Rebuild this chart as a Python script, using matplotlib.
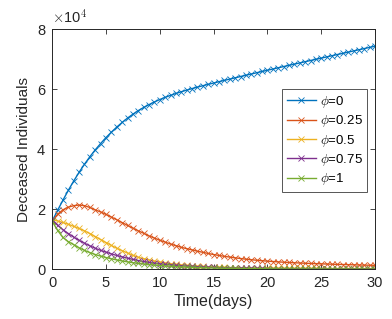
import numpy as np
import matplotlib
matplotlib.use("Agg")
import matplotlib.pyplot as plt

plt.rcParams['font.family'] = ['Liberation Sans', 'DejaVu Sans']
plt.rcParams['mathtext.fontset'] = 'cm'

# time grid (days), half-day steps
t = np.arange(0, 30.5, 0.5)

# deceased individuals, one list per phi
d_phi0 = [16000, 19600, 23000, 26300, 29400, 32300, 35000, 37500, 39800, 41900,
          43900, 45700, 47400, 48950, 50400, 51700, 52900, 53950, 54900, 55780,
          56600, 57320, 58000, 58620, 59200, 59740, 60250, 60740, 61200, 61660,
          62100, 62550, 62980, 63410, 63840, 64270, 64690, 65110, 65530, 65950,
          66360, 66770, 67180, 67590, 67995, 68400, 68805, 69210, 69610, 70010,
          70410, 70810, 71210, 71610, 72010, 72410, 72805, 73200, 73595, 73990,
          74380]
d_phi025 = [16000, 18300, 19800, 20700, 21200, 21400, 21200, 20600, 19800, 19100,
            18300, 17400, 16500, 15550, 14600, 13700, 12800, 12000, 11100, 10400,
            9650, 9050, 8400, 7850, 7300, 6850, 6450, 6000, 5650, 5250,
            4900, 4600, 4300, 4050, 3800, 3570, 3350, 3170, 3000, 2850,
            2700, 2570, 2450, 2350, 2250, 2160, 2080, 2000, 1930, 1860,
            1800, 1740, 1680, 1620, 1570, 1520, 1470, 1420, 1380, 1340,
            1300]
d_phi05 = [16500, 16100, 15600, 15000, 14300, 13600, 12800, 11900, 10900, 9900,
           8900, 7950, 7000, 6200, 5400, 4650, 4000, 3520, 3100, 2720,
           2400, 2100, 1850, 1630, 1450, 1290, 1150, 1030, 920, 830,
           750, 680, 620, 565, 520, 485, 450, 420, 390, 375,
           360, 345, 330, 315, 300, 290, 280, 270, 260, 250,
           240, 235, 230, 225, 220, 215, 210, 205, 200, 195,
           190]
d_phi075 = [16500, 14700, 13200, 11900, 10700, 9650, 8700, 7800, 7000, 6300,
            5700, 5120, 4600, 4130, 3700, 3280, 2900, 2580, 2300, 2040,
            1800, 1610, 1450, 1290, 1150, 1030, 920, 825, 740, 665,
            600, 540, 490, 442, 400, 362, 330, 303, 280, 258,
            240, 224, 210, 197, 185, 175, 165, 157, 150, 142,
            135, 130, 125, 120, 115, 110, 105, 102, 100, 97,
            95]
d_phi1 = [16000, 13000, 10600, 9200, 8200, 7150, 6300, 5550, 4900, 4370,
          3900, 3480, 3100, 2760, 2450, 2180, 1950, 1740, 1550, 1380,
          1230, 1100, 980, 875, 780, 695, 620, 555, 500, 445,
          400, 357, 320, 288, 260, 233, 210, 188, 170, 154,
          140, 127, 115, 105, 95, 87, 80, 75, 70, 65,
          60, 56, 52, 49, 46, 43, 40, 38, 36, 34,
          32]

series = [d_phi0, d_phi025, d_phi05, d_phi075, d_phi1]
labels = [r'$\phi$=0', r'$\phi$=0.25', r'$\phi$=0.5', r'$\phi$=0.75', r'$\phi$=1']
colors = ['#0072BD', '#D95319', '#EDB120', '#7E2F8E', '#77AC30']

fig = plt.figure(figsize=(3.92, 3.19), dpi=100)
ax = fig.add_axes([0.133, 0.156, 0.824, 0.752])

for y, lab, c in zip(series, labels, colors):
    ax.plot(t, y, color=c, marker='x', markersize=4.5, markeredgewidth=0.6,
            linewidth=1.0, label=lab)

ax.set_xlim(0, 30)
ax.set_ylim(0, 80000)
ax.set_xticks([0, 5, 10, 15, 20, 25, 30])
ax.set_yticks([0, 20000, 40000, 60000, 80000])
ax.set_yticklabels(['0', '2', '4', '6', '8'])
ax.tick_params(direction='in', top=True, right=True, length=3.5, width=0.6,
               labelsize=10.5, colors='#262626', pad=5)
for s in ax.spines.values():
    s.set_linewidth(0.7)
    s.set_color('#262626')

ax.text(0.0, 1.015, r'$\times$10$^4$', transform=ax.transAxes, fontsize=10.5,
        color='#262626', ha='left', va='bottom')

ax.set_xlabel('Time(days)', fontsize=11.5, color='#262626', labelpad=3)
ax.set_ylabel('Deceased Individuals', fontsize=11, color='#262626', labelpad=4)

leg = ax.legend(loc='upper right', bbox_to_anchor=(0.975, 0.75), fontsize=9.5,
                frameon=True, fancybox=False, framealpha=1, edgecolor='#555555',
                handlelength=2.2, handletextpad=0.3, borderpad=0.35,
                labelspacing=0.25, borderaxespad=0)
leg.get_frame().set_linewidth(0.7)

fig.savefig('out.png', dpi=100)
